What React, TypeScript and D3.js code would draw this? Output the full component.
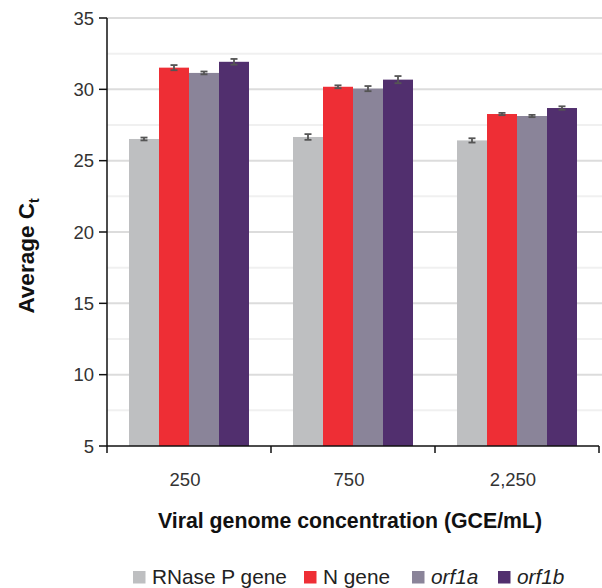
import React from 'react'
import * as d3 from 'd3'

// chart data
const categories = ['250', '750', '2,250']
const series = ['RNase P gene', 'N gene', 'orf1a', 'orf1b']
const italicSeries = [false, false, true, true]
const colors = ['#bebfc1', '#ee2e35', '#8a8499', '#512f6e']

const rnaseP = [26.52, 26.66, 26.42]
const nGene = [31.52, 30.18, 28.27]
const orf1a = [31.15, 30.05, 28.13]
const orf1b = [31.93, 30.68, 28.69]
const values = [rnaseP, nGene, orf1a, orf1b]

const rnasePErr = [0.1, 0.2, 0.15]
const nGeneErr = [0.18, 0.1, 0.08]
const orf1aErr = [0.1, 0.18, 0.08]
const orf1bErr = [0.2, 0.25, 0.12]
const errors = [rnasePErr, nGeneErr, orf1aErr, orf1bErr]

const yTicks = [5, 10, 15, 20, 25, 30, 35]
const yMinor = [7.5, 12.5, 17.5, 22.5, 27.5, 32.5]

const W = 602
const H = 588
const left = 107
const right = 599
const top = 18
const bottom = 446
const groupWidth = 120

const font = '"Liberation Sans", Arial, Helvetica, sans-serif'

const App = () => {
    const x0 = d3.scaleBand().domain(categories).range([left, right]).padding(0)
    const x1 = d3.scaleBand().domain(series).range([0, groupWidth]).padding(0)
    const y = d3.scaleLinear().domain([5, 35]).range([bottom, top])
    const groupOffset = (x0.bandwidth() - groupWidth) / 2

    const bars = []
    const errBars = []
    categories.forEach((c, ci) => {
        series.forEach((s, si) => {
            const v = values[si][ci]
            const e = errors[si][ci]
            const bx = x0(c) + groupOffset + x1(s)
            const cx = bx + x1.bandwidth() / 2
            bars.push(
                <rect key={`b${ci}${si}`} x={bx} y={y(v)} width={x1.bandwidth()}
                    height={bottom - y(v)} fill={colors[si]} />
            )
            errBars.push(
                <g key={`e${ci}${si}`} stroke="#555" strokeWidth={1.8}>
                    <line x1={cx} x2={cx} y1={y(v + e)} y2={y(v - e)} />
                    <line x1={cx - 3.5} x2={cx + 3.5} y1={y(v + e)} y2={y(v + e)} />
                    <line x1={cx - 3.5} x2={cx + 3.5} y1={y(v - e)} y2={y(v - e)} />
                </g>
            )
        })
    })

    const legendX = [133, 304, 412, 498]

    return (
        <svg width={W} height={H} style={{ position: 'absolute', left: 0, top: 0, background: '#fff' }}
            fontFamily={font}>
            {/* grid */}
            {yMinor.map(t => (
                <line key={`m${t}`} x1={left} x2={W} y1={y(t)} y2={y(t)} stroke="#f0f0f0" strokeWidth={2} />
            ))}
            {yTicks.slice(1).map(t => (
                <line key={`g${t}`} x1={left} x2={W} y1={y(t)} y2={y(t)} stroke="#dcdcdc" strokeWidth={2} />
            ))}
            {bars}
            {errBars}
            {/* y axis */}
            <line x1={left} x2={left} y1={top} y2={bottom} stroke="#111" strokeWidth={1.5} />
            {yTicks.map(t => (
                <g key={`yt${t}`}>
                    <line x1={left - 8} x2={left} y1={y(t)} y2={y(t)} stroke="#111" strokeWidth={1.5} />
                    <text x={94} y={y(t) + 6.5} textAnchor="end" fontSize={18.5} fill="#333">{t}</text>
                </g>
            ))}
            {/* x axis */}
            <line x1={left} x2={right} y1={bottom} y2={bottom} stroke="#111" strokeWidth={1.5} />
            {[left, ...categories.map(c => x0(c) + x0.bandwidth())].map((tx, i) => (
                <line key={`xt${i}`} x1={tx} x2={tx} y1={bottom} y2={bottom + 7} stroke="#111" strokeWidth={1.5} />
            ))}
            {categories.map(c => (
                <text key={`xl${c}`} x={x0(c) + x0.bandwidth() / 2 - 4} y={486} textAnchor="middle"
                    fontSize={18.5} fill="#333">{c}</text>
            ))}
            <text x={350} y={528} textAnchor="middle" fontSize={21.3} fontWeight="bold" fill="#111">
                Viral genome concentration (GCE/mL)
            </text>
            <text transform="translate(34,256) rotate(-90)" textAnchor="middle" fontSize={22.5}
                fontWeight="bold" fill="#111">
                Average C<tspan fontSize={14} dy={5}>t</tspan>
            </text>
            {/* legend */}
            {series.map((s, i) => (
                <g key={`lg${s}`} transform={`translate(${legendX[i]},0)`}>
                    <rect x={0} y={571} width={12.5} height={12.5} fill={colors[i]} />
                    <text x={19} y={584} fontSize={20.8} fill="#222"
                        fontStyle={italicSeries[i] ? 'italic' : 'normal'}>{s}</text>
                </g>
            ))}
        </svg>
    )
}

export default App
